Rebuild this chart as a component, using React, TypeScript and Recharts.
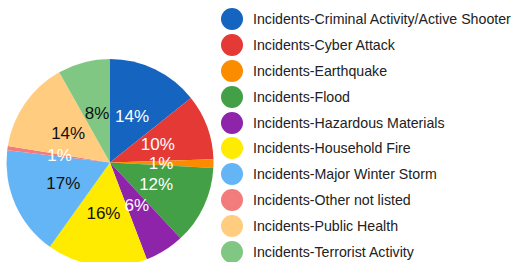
import React from "react";
import { PieChart, Pie, Cell, Legend } from "recharts";

const categories = [
  "Incidents-Criminal Activity/Active Shooter",
  "Incidents-Cyber Attack",
  "Incidents-Earthquake",
  "Incidents-Flood",
  "Incidents-Hazardous Materials",
  "Incidents-Household Fire",
  "Incidents-Major Winter Storm",
  "Incidents-Other not listed",
  "Incidents-Public Health",
  "Incidents-Terrorist Activity",
];
const counts = [21, 15, 2, 18, 9, 23, 25, 1, 21, 12];
const colors = [
  "#1565C0",
  "#E53935",
  "#FB8C00",
  "#43A047",
  "#8E24AA",
  "#FFEB00",
  "#64B5F6",
  "#F27C7C",
  "#FFCC80",
  "#81C784",
];
const labelColors = [
  "#ffffff",
  "#ffffff",
  "#ffffff",
  "#ffffff",
  "#ffffff",
  "#111111",
  "#111111",
  "#ffffff",
  "#111111",
  "#111111",
];

const data = categories.map((name, i) => ({ name, value: counts[i] }));

const RADIAN = Math.PI / 180;
const FONT = "'Liberation Sans', Arial, sans-serif";

const renderLabel = (props: any) => {
  const { cx, cy, midAngle, percent, index } = props;
  const r = 51;
  const x = cx + r * Math.cos(-midAngle * RADIAN);
  const y = cy + r * Math.sin(-midAngle * RADIAN);
  return (
    <text
      x={x}
      y={y}
      fill={labelColors[index]}
      textAnchor="middle"
      dominantBaseline="central"
      fontSize={17}
      fontFamily={FONT}
    >
      {`${Math.round(percent * 100)}%`}
    </text>
  );
};

const renderLegend = () => (
  <div style={{ fontFamily: FONT }}>
    {categories.map((c, i) => (
      <div
        key={c}
        style={{
          display: "flex",
          alignItems: "center",
          height: 25.9,
        }}
      >
        <div
          style={{
            width: 22,
            height: 22,
            borderRadius: 11,
            background: colors[i],
            marginRight: 10,
            flexShrink: 0,
          }}
        />
        <span style={{ fontSize: 14.2, color: "#222", whiteSpace: "nowrap" }}>{c}</span>
      </div>
    ))}
  </div>
);

export default function App() {
  return (
    <div style={{ position: "absolute", left: 0, top: 0, width: 516, height: 262, background: "#fff", overflow: "hidden" }}>
      <PieChart width={516} height={262} margin={{ top: 0, right: 0, bottom: 0, left: 0 }}>
        <Pie
          data={data}
          dataKey="value"
          nameKey="name"
          cx={110}
          cy={162.5}
          outerRadius={103.5}
          startAngle={90}
          endAngle={-270}
          stroke="none"
          label={renderLabel}
          labelLine={false}
          isAnimationActive={false}
        >
          {data.map((d, i) => (
            <Cell key={d.name} fill={colors[i]} />
          ))}
        </Pie>
        <Legend
          content={renderLegend}
          wrapperStyle={{ position: "absolute", left: 221, top: 6, width: 295 }}
        />
      </PieChart>
    </div>
  );
}
